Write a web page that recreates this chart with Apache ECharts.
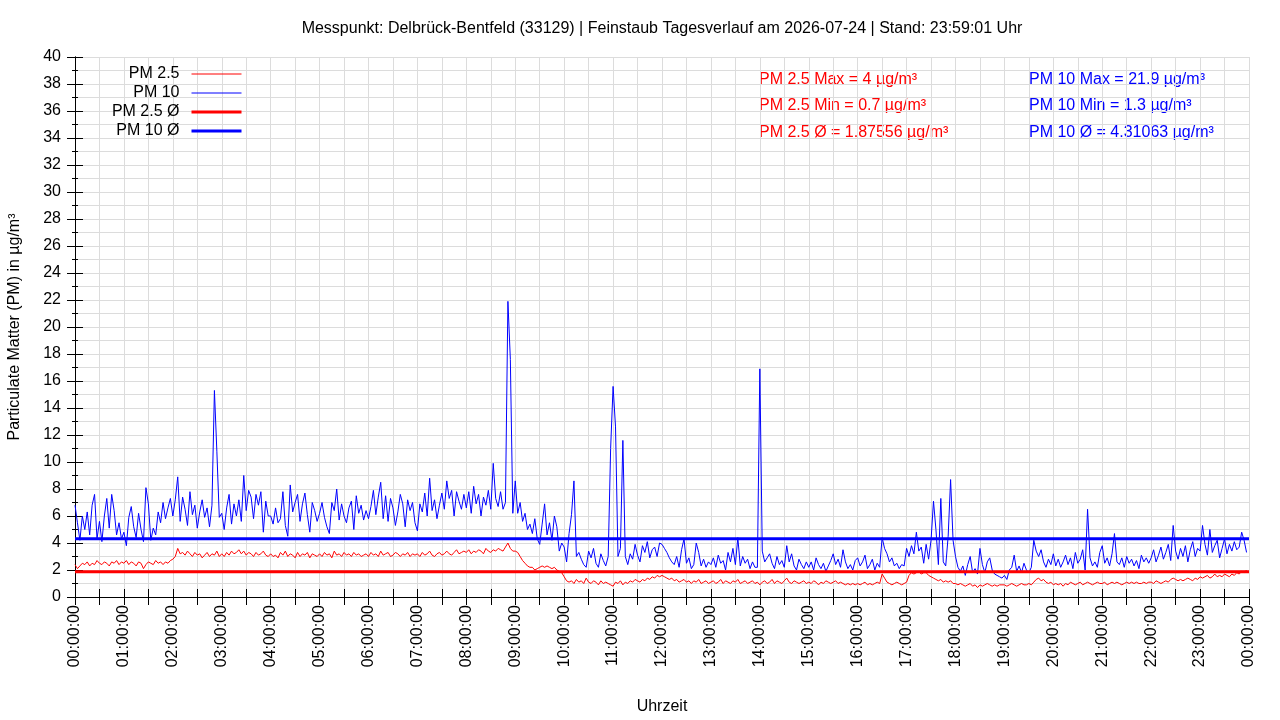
<!DOCTYPE html>
<html>
<head>
<meta charset="utf-8">
<title>Feinstaub Tagesverlauf</title>
<script src="https://cdn.jsdelivr.net/npm/echarts@6/dist/echarts.min.js"></script>
<style>
  html, body { margin: 0; padding: 0; background: #fff; }
  #chart { width: 1280px; height: 720px; }
</style>
</head>
<body>
<div id="chart"></div>
<script>

const STEP = 180; // Sekunden zwischen zwei Messwerten

const pm10 = [
  6.8, 5.5, 4.2, 6.0, 5.0, 6.3, 4.6, 6.8, 7.6, 4.3, 5.6, 4.1, 6.0, 7.3, 5.1, 7.6, 6.4, 4.6, 5.5, 4.3, // 00
  4.8, 3.8, 5.9, 6.7, 5.2, 4.4, 6.2, 5.0, 4.1, 8.1, 6.9, 4.2, 5.1, 4.6, 6.3, 5.5, 7.0, 5.8, 6.6, 7.3, // 01
  6.0, 7.2, 8.9, 5.6, 7.4, 6.5, 5.3, 7.8, 6.1, 6.8, 5.1, 6.3, 7.2, 5.9, 6.6, 5.2, 6.8, 15.3, 10.8, 5.9, // 02
  6.2, 5.0, 6.6, 7.6, 5.4, 6.9, 6.0, 7.2, 5.6, 9.0, 6.4, 7.9, 7.4, 5.8, 7.6, 6.8, 7.8, 4.8, 7.1, 6.0, // 03
  6.0, 5.4, 6.6, 5.5, 5.8, 7.8, 5.3, 4.5, 8.3, 6.3, 7.0, 7.6, 5.6, 6.9, 7.7, 6.1, 4.8, 7.0, 6.4, 5.6, // 04
  6.2, 7.0, 5.9, 5.2, 4.7, 7.0, 6.4, 8.0, 5.7, 6.9, 6.0, 5.5, 6.6, 7.1, 5.0, 7.5, 6.2, 6.8, 5.7, 6.4, // 05
  5.8, 6.7, 7.9, 6.1, 7.4, 8.5, 5.8, 7.5, 5.6, 7.3, 6.6, 5.3, 6.3, 7.6, 6.9, 5.2, 7.2, 6.4, 7.0, 5.5, // 06
  4.9, 6.9, 6.3, 7.7, 6.0, 8.8, 6.4, 7.2, 5.8, 6.8, 7.7, 6.5, 8.6, 7.3, 7.9, 6.0, 7.8, 7.1, 6.5, 7.6, // 07
  6.6, 7.8, 6.2, 8.2, 6.9, 7.6, 6.0, 7.4, 6.8, 7.9, 6.5, 9.9, 7.3, 6.7, 7.8, 6.5, 7.0, 21.9, 17.6, 6.2, // 08
  8.6, 6.2, 7.0, 5.6, 6.2, 5.0, 5.4, 4.7, 5.8, 4.3, 3.9, 5.4, 6.9, 4.6, 5.5, 4.2, 6.0, 5.2, 3.4, 4.0, // 09
  3.7, 2.6, 4.7, 6.1, 8.6, 3.0, 3.3, 2.8, 2.4, 2.2, 3.4, 2.9, 3.6, 2.5, 2.2, 3.2, 2.7, 2.3, 3.0, 11.0, // 10
  15.6, 12.6, 3.0, 3.6, 11.6, 3.0, 2.4, 3.2, 2.8, 3.9, 3.1, 2.6, 3.8, 3.3, 4.1, 2.9, 3.5, 3.7, 3.0, 4.0, // 11
  3.9, 3.6, 3.3, 2.9, 2.6, 2.4, 3.0, 2.2, 3.5, 4.3, 2.5, 2.9, 2.1, 2.4, 4.0, 3.3, 2.3, 2.8, 2.2, 2.6, // 12
  2.4, 2.9, 2.2, 3.1, 2.5, 2.7, 2.0, 3.3, 2.6, 3.6, 2.4, 4.4, 2.3, 3.0, 2.5, 2.8, 2.1, 2.6, 2.2, 2.2, // 13
  16.9, 3.4, 2.6, 2.9, 3.2, 2.5, 2.1, 3.0, 2.4, 2.7, 2.2, 3.8, 2.6, 3.2, 2.3, 2.0, 2.8, 2.4, 2.1, 2.6, // 14
  2.2, 2.6, 2.0, 2.9, 2.4, 2.1, 2.5, 1.9, 2.3, 2.7, 3.2, 2.4, 2.8, 2.2, 3.5, 2.6, 2.1, 2.4, 2.0, 2.7, // 15
  2.9, 2.3, 2.6, 3.1, 2.1, 2.4, 2.8, 2.0, 2.5, 2.2, 4.4, 3.6, 3.2, 2.6, 2.9, 2.3, 2.5, 2.1, 2.4, 2.3, // 16
  3.6, 3.0, 3.8, 3.2, 4.8, 3.4, 3.7, 2.5, 3.9, 2.8, 4.2, 7.1, 5.0, 2.4, 7.3, 2.6, 2.3, 4.5, 8.7, 4.2, // 17
  3.0, 2.2, 1.9, 2.3, 1.6, 2.4, 3.0, 1.8, 2.1, 1.7, 3.6, 2.4, 1.8, 2.6, 2.9, 2.0, 1.7, 1.6, 1.5, 1.4, // 18
  1.6, 1.3, 2.0, 2.2, 3.1, 1.9, 2.3, 1.8, 2.5, 2.0, 1.8, 2.2, 4.2, 3.4, 3.0, 3.5, 2.6, 2.2, 2.8, 2.4, // 19
  3.2, 2.3, 2.8, 2.2, 2.6, 3.1, 2.4, 2.9, 2.1, 3.3, 2.5, 2.8, 3.5, 2.0, 6.5, 2.9, 2.3, 2.6, 2.2, 3.3, // 20
  3.8, 2.5, 2.9, 2.3, 3.2, 4.7, 2.6, 2.4, 2.9, 2.2, 3.0, 2.5, 2.8, 2.3, 2.7, 2.1, 3.1, 2.6, 2.9, 2.5, // 21
  2.9, 3.5, 2.6, 3.1, 3.7, 2.8, 3.3, 3.9, 2.7, 5.3, 3.4, 2.8, 3.6, 3.0, 3.8, 2.6, 3.5, 4.1, 3.0, 3.6, // 22
  3.4, 5.3, 3.9, 3.1, 5.0, 3.3, 3.8, 4.2, 2.9, 3.6, 4.3, 3.2, 3.9, 3.4, 4.1, 3.5, 3.7, 4.8, 4.2, 3.3  // 23
];

const pm25 = [
  2.4, 2.1, 2.3, 2.5, 2.4, 2.6, 2.3, 2.5, 2.4, 2.7, 2.5, 2.4, 2.6, 2.5, 2.3, 2.6, 2.5, 2.7, 2.4, 2.6, // 00
  2.5, 2.7, 2.4, 2.6, 2.5, 2.3, 2.6, 2.5, 2.1, 2.4, 2.6, 2.5, 2.4, 2.7, 2.5, 2.6, 2.4, 2.6, 2.5, 2.7, // 01
  2.8, 3.0, 3.6, 3.2, 3.3, 3.1, 3.4, 3.2, 3.0, 3.3, 3.1, 3.2, 2.9, 3.1, 3.3, 3.0, 3.2, 3.1, 3.4, 3.0, // 02
  3.2, 3.0, 3.3, 3.1, 3.4, 3.2, 3.3, 3.5, 3.2, 3.4, 3.1, 3.3, 3.2, 3.0, 3.3, 3.1, 3.2, 3.4, 3.1, 3.0, // 03
  3.2, 3.0, 3.1, 2.9, 3.3, 3.1, 3.4, 3.0, 3.2, 3.1, 2.9, 3.3, 3.0, 3.2, 3.1, 3.3, 2.9, 3.2, 3.1, 3.0, // 04
  3.2, 3.0, 3.3, 3.1, 3.2, 2.9, 3.4, 3.1, 3.2, 3.0, 3.3, 3.1, 3.2, 3.0, 3.3, 3.1, 3.2, 3.0, 3.1, 3.2, // 05
  3.0, 3.3, 3.1, 3.2, 3.0, 3.4, 3.1, 3.2, 3.3, 3.0, 3.1, 3.3, 3.2, 3.0, 3.2, 3.1, 3.3, 3.0, 3.2, 3.1, // 06
  3.2, 3.0, 3.3, 3.1, 3.2, 3.4, 3.1, 3.0, 3.2, 3.3, 3.1, 3.2, 3.4, 3.2, 3.1, 3.3, 3.5, 3.2, 3.3, 3.4, // 07
  3.3, 3.5, 3.2, 3.4, 3.3, 3.5, 3.4, 3.2, 3.6, 3.4, 3.3, 3.5, 3.4, 3.6, 3.5, 3.4, 3.7, 4.0, 3.6, 3.4, // 08
  3.4, 3.3, 3.0, 2.7, 2.5, 2.3, 2.2, 2.2, 2.0, 2.1, 2.2, 2.3, 2.2, 2.3, 2.2, 2.1, 2.2, 2.0, 1.9, 1.8, // 09
  1.5, 1.2, 1.1, 1.2, 1.0, 1.3, 1.1, 1.2, 1.0, 1.4, 1.1, 1.0, 1.2, 1.1, 0.9, 1.2, 1.0, 1.1, 1.0, 0.9, // 10
  0.8, 1.1, 1.0, 1.2, 0.9, 1.1, 1.0, 1.2, 1.1, 1.3, 1.2, 1.1, 1.3, 1.2, 1.4, 1.3, 1.5, 1.4, 1.6, 1.5, // 11
  1.6, 1.5, 1.4, 1.3, 1.4, 1.2, 1.3, 1.1, 1.2, 1.3, 1.1, 1.2, 1.0, 1.2, 1.1, 1.3, 1.0, 1.1, 1.2, 1.0, // 12
  1.1, 1.2, 1.0, 1.1, 1.3, 1.0, 1.2, 1.1, 1.0, 1.2, 1.1, 1.3, 1.0, 1.1, 1.2, 1.0, 1.1, 1.2, 1.0, 1.1, // 13
  0.9, 1.1, 1.2, 1.0, 1.1, 1.3, 1.0, 1.2, 1.1, 1.0, 1.2, 1.4, 1.1, 1.0, 1.2, 1.1, 1.0, 1.1, 1.2, 1.0, // 14
  1.1, 1.0, 1.2, 1.1, 0.9, 1.1, 1.0, 1.2, 1.1, 1.0, 1.1, 1.2, 1.0, 1.1, 1.0, 0.9, 1.0, 0.9, 1.0, 0.9, // 15
  1.0, 0.9, 1.0, 1.1, 0.9, 1.0, 0.9, 1.0, 1.1, 1.0, 1.7, 1.4, 1.1, 1.0, 0.9, 1.0, 1.1, 1.0, 0.9, 1.0, // 16
  1.1, 1.6, 1.8, 1.7, 1.8, 1.9, 1.7, 1.8, 1.8, 1.6, 1.5, 1.4, 1.3, 1.2, 1.3, 1.1, 1.2, 1.1, 1.2, 1.0, // 17
  1.0, 0.9, 1.0, 0.9, 0.8, 0.9, 1.0, 0.8, 0.9, 0.7, 0.9, 0.8, 0.9, 1.0, 0.9, 0.8, 0.9, 0.8, 0.9, 0.9, // 18
  0.9, 0.8, 0.9, 1.0, 0.9, 0.8, 0.9, 1.0, 0.9, 0.9, 1.0, 0.9, 1.1, 1.3, 1.4, 1.2, 1.3, 1.1, 1.0, 1.1, // 19
  0.9, 1.0, 0.9, 1.0, 0.8, 1.0, 0.9, 1.1, 1.0, 0.9, 1.0, 1.1, 0.9, 1.0, 1.1, 1.0, 0.9, 1.0, 1.1, 1.0, // 20
  1.0, 1.1, 0.9, 1.0, 1.1, 1.0, 1.1, 1.0, 0.9, 1.0, 1.1, 1.0, 1.1, 1.0, 1.1, 1.0, 1.0, 1.1, 1.0, 1.1, // 21
  1.1, 1.0, 1.2, 1.1, 1.0, 1.1, 1.2, 1.1, 1.3, 1.4, 1.3, 1.2, 1.3, 1.2, 1.3, 1.4, 1.3, 1.2, 1.4, 1.3, // 22
  1.5, 1.4, 1.5, 1.6, 1.4, 1.5, 1.7, 1.5, 1.6, 1.5, 1.7, 1.6, 1.5, 1.7, 1.6, 1.8, 1.7, 1.9, 1.8, 2.0  // 23
];

// Kennwerte laut Beschriftung
const pm25Stats = { max: '4', min: '0.7', avg: 1.87556 };
const pm10Stats = { max: '21.9', min: '1.3', avg: 4.31063 };

const seriesNames = ['PM 2.5', 'PM 10', 'PM 2.5 Ø', 'PM 10 Ø'];

const TITLE = 'Messpunkt: Delbrück-Bentfeld (33129) | Feinstaub Tagesverlauf am 2026-07-24 | Stand: 23:59:01 Uhr';

const DAY = 86400;
const FONT = '"Liberation Sans", Arial, Helvetica, sans-serif';
const GRID_COLOR = '#dcdcdc';
const RED = '#ff0000';
const BLUE = '#0000ff';

function toPoints(values) {
    return values.map((v, i) => [i * STEP, v]);
}

function hourLabel(sec) {
    if (sec % 3600 !== 0) return '';
    const h = Math.floor(sec / 3600) % 24;
    return String(h).padStart(2, '0') + ':00:00';
}

const chart = echarts.init(document.getElementById('chart'));

const axisBlack = { show: true, lineStyle: { color: '#000', width: 1 } };
const tickBlack = { show: true, inside: true, length: 8, lineStyle: { color: '#000', width: 1 } };
const minorTickBlack = { show: true, splitNumber: 2, length: 3, lineStyle: { color: '#000', width: 1 } };

function statText(x, y, text, color) {
    return {
        type: 'text',
        x, y,
        silent: true,
        style: { text, fill: color, font: '16px ' + FONT, textAlign: 'left', textVerticalAlign: 'middle' }
    };
}

const option = {
    animation: false,
    textStyle: { fontFamily: FONT },
    grid: { left: 75, right: 31, top: 57, bottom: 123, outerBoundsMode: 'none' },
    legend: {
        orient: 'vertical',
        align: 'right',
        right: 1037,
        top: 66,
        padding: 0,
        itemWidth: 50,
        itemHeight: 14,
        itemGap: 3,
        selectedMode: false,
        itemStyle: { opacity: 0 },
        textStyle: { fontSize: 16, color: '#000', padding: [0, 7, 0, 0] },
        data: [
            { name: seriesNames[0], lineStyle: { width: 1 } },
            { name: seriesNames[1], lineStyle: { width: 1 } },
            { name: seriesNames[2], lineStyle: { width: 3 } },
            { name: seriesNames[3], lineStyle: { width: 3 } }
        ]
    },
    graphic: [
        {
            type: 'text', x: 662, y: 29, silent: true,
            style: { text: TITLE, fill: '#000', font: '16px ' + FONT, textAlign: 'center', textVerticalAlign: 'middle' }
        },
        statText(759, 79.5, `PM 2.5 Max = ${pm25Stats.max} µg/m³`, RED),
        statText(759, 106, `PM 2.5 Min = ${pm25Stats.min} µg/m³`, RED),
        statText(759, 133, `PM 2.5 Ø = ${pm25Stats.avg} µg/m³`, RED),
        statText(1029, 79.5, `PM 10 Max = ${pm10Stats.max} µg/m³`, BLUE),
        statText(1029, 106, `PM 10 Min = ${pm10Stats.min} µg/m³`, BLUE),
        statText(1029, 133, `PM 10 Ø = ${pm10Stats.avg} µg/m³`, BLUE)
    ],
    xAxis: [
        {
            type: 'value', position: 'bottom',
            min: 0, max: DAY, interval: 1800,
            name: 'Uhrzeit', nameLocation: 'middle', nameGap: 102,
            nameTextStyle: { fontSize: 16, color: '#000' },
            axisLine: axisBlack,
            axisTick: tickBlack,
            axisLabel: { rotate: 90, margin: 8, fontSize: 16, color: '#000', formatter: hourLabel },
            splitLine: { show: true, lineStyle: { color: GRID_COLOR, width: 1 } }
        },
        {
            type: 'value', position: 'top',
            min: 0, max: DAY, interval: 1800,
            axisLine: axisBlack,
            axisTick: tickBlack,
            axisLabel: { show: false },
            splitLine: { show: false }
        }
    ],
    yAxis: [
        {
            type: 'value', position: 'left',
            min: 0, max: 40, interval: 2,
            name: 'Particulate Matter (PM) in µg/m³', nameLocation: 'middle', nameGap: 52,
            nameTextStyle: { fontSize: 16, color: '#000' },
            axisLine: axisBlack,
            axisTick: tickBlack,
            minorTick: minorTickBlack,
            axisLabel: { margin: 14, fontSize: 16, color: '#000' },
            splitLine: { show: true, lineStyle: { color: GRID_COLOR, width: 1 } },
            minorSplitLine: { show: true, lineStyle: { color: GRID_COLOR, width: 1 } }
        },
        {
            type: 'value', position: 'right',
            min: 0, max: 40, interval: 2,
            axisLine: axisBlack,
            axisTick: tickBlack,
            minorTick: minorTickBlack,
            axisLabel: { show: false },
            splitLine: { show: false }
        }
    ],
    series: [
        {
            name: seriesNames[0], type: 'line', data: toPoints(pm25),
            symbol: 'none', showSymbol: false, silent: true, sampling: null,
            lineStyle: { color: RED, width: 1 }, itemStyle: { color: RED },
            emphasis: { disabled: true }
        },
        {
            name: seriesNames[1], type: 'line', data: toPoints(pm10),
            symbol: 'none', showSymbol: false, silent: true, sampling: null,
            lineStyle: { color: BLUE, width: 1 }, itemStyle: { color: BLUE },
            emphasis: { disabled: true }
        },
        {
            name: seriesNames[2], type: 'line', data: [[0, pm25Stats.avg], [DAY, pm25Stats.avg]],
            symbol: 'none', showSymbol: false, silent: true,
            lineStyle: { color: RED, width: 3 }, itemStyle: { color: RED },
            emphasis: { disabled: true }
        },
        {
            name: seriesNames[3], type: 'line', data: [[0, pm10Stats.avg], [DAY, pm10Stats.avg]],
            symbol: 'none', showSymbol: false, silent: true,
            lineStyle: { color: BLUE, width: 3 }, itemStyle: { color: BLUE },
            emphasis: { disabled: true }
        }
    ]
};

option && chart.setOption(option);
</script>
</body>
</html>
